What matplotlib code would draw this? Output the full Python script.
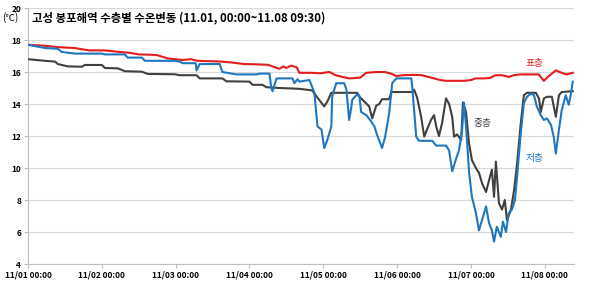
import matplotlib
matplotlib.use("Agg")
import matplotlib.pyplot as plt

plt.rcParams['font.family'] = ['Noto Sans CJK KR', 'DejaVu Sans']

# hours since 11/01 00:00
surf_h = [0, 5, 10, 15, 20, 25, 30, 33, 36, 40, 42, 45.4, 48, 50, 53, 55, 58, 62, 66, 70, 74,
          78, 81.7, 83, 84, 85.5, 87.3, 88.2, 92, 95, 98, 100, 102, 104.4, 106, 108, 110, 113,
          116, 118, 119.7, 122, 125, 128, 130, 132, 134, 135.9, 139, 142, 144, 145.5, 148,
          150, 152, 154, 156.3, 158, 160, 163, 166, 167.7, 169, 171.6, 173.5, 175, 177.1]
surf_v = [17.7, 17.65, 17.55, 17.5, 17.35, 17.35, 17.25, 17.2, 17.1, 17.08, 17.05, 16.85,
          16.8, 16.75, 16.8, 16.7, 16.68, 16.66, 16.6, 16.5, 16.48, 16.45, 16.2, 16.35, 16.25,
          16.4, 16.3, 15.95, 15.95, 15.92, 16.0, 15.8, 15.7, 15.6, 15.62, 15.65, 15.95, 16.0,
          16.0, 15.9, 15.75, 15.8, 15.82, 15.8, 15.7, 15.6, 15.5, 15.45, 15.45, 15.45, 15.5,
          15.6, 15.6, 15.62, 15.8, 15.8, 15.7, 15.8, 15.85, 15.85, 15.85, 15.45, 15.7, 16.1,
          15.95, 15.85, 15.95]

mid_h = [0, 5.5, 8.8, 9.7, 13, 17.5, 18.5, 24, 25, 29.2, 31.5, 37, 38.9, 47.7, 49.3, 54.8,
         55.8, 63.2, 64.5, 72, 73, 76.2, 77.5, 81.7, 88.2, 92.4, 93.7, 96.3, 97.3, 98.6, 107,
         107.7, 108.3, 110.9, 111.9, 113.2, 114.2, 115.1, 117.4, 118.1, 124.9, 125.5, 126.5,
         127.8, 128.8, 129.7, 131, 132, 132.7, 133.6, 134.6, 135.9, 136.9, 137.9, 138.5,
         139.5, 140.8, 141.4, 142.4, 143.4, 144.3, 145.6, 146.6, 147.6, 148.9, 149.9, 150.8,
         151.5, 152.1, 153.1, 154.1, 155, 155.7, 157, 158, 158.9, 160.2, 161.2, 162.2, 165.1,
         166.1, 166.7, 167.7, 168.7, 170.3, 171.6, 172.6, 173.5, 177.1]
mid_v = [16.8, 16.7, 16.65, 16.5, 16.35, 16.33, 16.44, 16.44, 16.25, 16.23, 16.05, 16.02,
         15.88, 15.86, 15.8, 15.8, 15.6, 15.6, 15.42, 15.4, 15.2, 15.2, 15.05, 15.0, 14.95,
         14.85, 14.5, 13.85, 14.15, 14.7, 14.7, 14.45, 14.35, 13.85, 13.1, 13.9, 14.0, 14.3,
         14.3, 14.75, 14.75, 14.9, 14.4, 13.2, 11.96, 12.4, 13.0, 13.3, 12.6, 12.0, 12.8,
         14.35, 14.0, 13.2, 11.96, 12.1, 11.75, 14.1, 13.5, 11.5, 10.5, 10.0, 9.7, 9.05, 8.5,
         9.25, 9.9, 8.2, 10.4, 7.8, 7.4, 8.0, 6.75, 7.4, 8.6, 10.1, 12.8, 14.55, 14.7, 14.7,
         14.35, 13.5, 14.35, 14.45, 14.45, 13.2, 14.55, 14.75, 14.8]

bot_h = [0, 5.5, 9.7, 11, 15.2, 24, 25, 31.5, 32.4, 37, 38, 47.7, 49.3, 50.3, 54.5, 54.8,
         55.8, 62.3, 63.2, 67.8, 74.3, 75.3, 78.5, 79.1, 79.5, 80.8, 86, 86.6, 87.6, 88.2,
         91.5, 92.1, 93.1, 94.1, 95.4, 96.3, 97.3, 98.6, 98.9, 100.2, 102.8, 103.5, 104.4,
         105.1, 105.4, 106.7, 107.7, 108.3, 110, 111.6, 112.6, 113.5, 115.1, 116.1, 117.4,
         118.4, 119.7, 124.6, 124.9, 126.2, 127.1, 131.4, 132.7, 135.9, 136.9, 137.9, 139.2,
         140.1, 141.1, 141.7, 142.4, 143.4, 144.3, 145.6, 146.6, 147.6, 148.9, 149.9, 150.8,
         151.5, 152.4, 153.7, 154.4, 155.4, 156.3, 157.3, 158.3, 158.9, 160.2, 161.2, 162.2,
         163.5, 164.5, 165.4, 166.7, 167.7, 168.7, 170, 170.9, 171.6, 172.6, 173.5, 174.8,
         175.8, 176.5, 177.1]
bot_v = [17.7, 17.5, 17.45, 17.25, 17.15, 17.15, 17.1, 17.1, 16.9, 16.9, 16.7, 16.7, 16.65,
         16.55, 16.55, 16.1, 16.5, 16.5, 16.0, 15.85, 15.85, 15.9, 15.9, 15.0, 14.8, 15.6,
         15.6, 15.3, 15.55, 15.4, 15.5, 15.2, 14.7, 12.6, 12.4, 11.25, 11.75, 12.6, 14.5,
         15.3, 15.3, 14.9, 13.0, 13.8, 14.25, 14.55, 14.55, 13.5, 13.3, 12.9, 12.6, 12.06,
         11.25, 11.96, 13.4, 15.3, 15.6, 15.6, 15.1, 11.96, 11.7, 11.7, 11.4, 11.4, 11.1, 9.8,
         10.6, 11.1, 12.3, 14.1, 12.6, 9.7, 8.2, 7.2, 6.1, 6.75, 7.6, 6.55, 6.1, 5.4, 6.33,
         5.7, 6.65, 6.0, 7.2, 7.4, 8.0, 9.25, 12.2, 14.05, 14.45, 14.65, 14.55, 13.85, 13.3,
         13.0, 13.1, 12.7, 11.96, 10.9, 12.4, 13.6, 14.55, 13.95, 14.65, 15.4]

day_ticks = [0, 24, 48, 72, 96, 120, 144, 168]
day_labels = ['11/01 00:00', '11/02 00:00', '11/03 00:00', '11/04 00:00',
              '11/05 00:00', '11/06 00:00', '11/07 00:00', '11/08 00:00']

fig = plt.figure(figsize=(6.01, 2.83), dpi=100)
ax = fig.add_axes([0.0466, 0.0671, 0.9085, 0.9046])

red, gray, blue = '#e21d1d', '#404040', '#1f77c0'
ax.plot(surf_h, surf_v, color=red, lw=1.5, zorder=3)
ax.plot(mid_h, mid_v, color=gray, lw=1.5, zorder=3)
ax.plot(bot_h, bot_v, color=blue, lw=1.5, zorder=4)

ax.set_xlim(0, 177.5)
ax.set_ylim(4, 20)
ax.set_yticks(range(4, 21, 2))
ax.set_xticks(day_ticks)
ax.set_xticklabels(day_labels)
ax.grid(axis='y', color='#d9d9d9', lw=0.8)
ax.set_axisbelow(True)
for s in ['top', 'right']:
    ax.spines[s].set_visible(False)
for s in ['left', 'bottom']:
    ax.spines[s].set_color('#bfbfbf')
ax.tick_params(axis='both', labelsize=6, colors='#bfbfbf', length=3, width=0.8, pad=2)
for lab in ax.get_xticklabels() + ax.get_yticklabels():
    lab.set_color('black')
    lab.set_fontweight('bold')

ax.text(164.8, 16.55, '표층', color=red, fontsize=7, ha='center', va='center')
ax.text(147.6, 12.8, '중층', color=gray, fontsize=7, ha='center', va='center')
ax.text(164.8, 10.6, '저층', color=blue, fontsize=7, ha='center', va='center')

fig.text(2 / 601, 1 - 18 / 283, '(℃)', fontsize=7, va='center', ha='left')
fig.text(32 / 601, 1 - 18 / 283, '고성 봉포해역 수층별 수온변동 (11.01, 00:00~11.08 09:30)',
         fontsize=8.2, fontweight='bold', va='center', ha='left')

fig.savefig('out.png', dpi=100)
